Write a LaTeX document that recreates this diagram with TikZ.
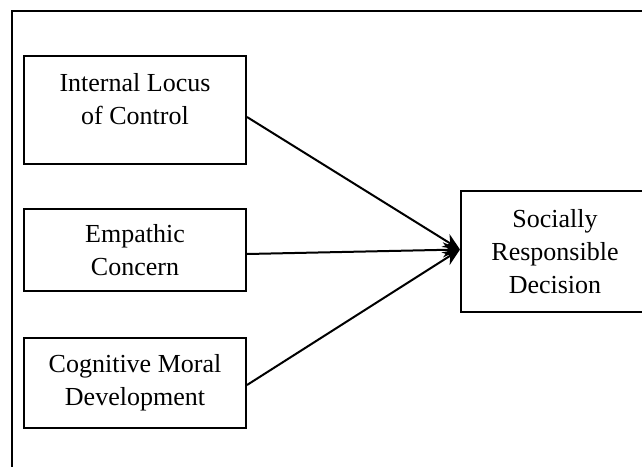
\documentclass[tikz,border=0pt]{standalone}
\usepackage{fontspec}
\setmainfont{Liberation Serif}
\usetikzlibrary{arrows.meta}

\tikzset{
    factor/.style={draw, line width=2pt, rectangle, align=center, inner sep=0pt,
        font=\fontsize{26}{33}\selectfont},
    link/.style={line width=2pt, -{Stealth[length=17pt,width=15pt]}}
}

\begin{document}
\begin{tikzpicture}[x=1pt, y=-1pt]
                \useasboundingbox (0, 0) rectangle (642, 466);
                \clip (0, 0) rectangle (642, 466);
                % outer frame (only top and left lie inside the picture)
                \draw [line width=2pt] (12, 480) -- (12, 11) -- (660, 11);
                % factors
                \node [factor, minimum width=222pt, minimum height=108pt, text depth=22pt] (loc) at (135, 110) {Internal Locus\\of Control};
                \node [factor, minimum width=222pt, minimum height=82pt] (emp) at (135, 250) {Empathic\\Concern};
                \node [factor, minimum width=222pt, minimum height=90pt] (cog) at (135, 383) {Cognitive Moral\\Development};
                \node [factor, minimum width=188pt, minimum height=121pt] (dec) at (555, 251.5) {Socially\\Responsible\\Decision};
                % paths
                \draw [link] ([yshift=-7pt]loc.east) -- ([yshift=2pt]dec.west);
                \draw [link] ([yshift=-4pt]emp.east) -- ([yshift=2pt]dec.west);
                \draw [link] ([yshift=-2pt]cog.east) -- ([yshift=2pt]dec.west);
            \end{tikzpicture}
\end{document}
